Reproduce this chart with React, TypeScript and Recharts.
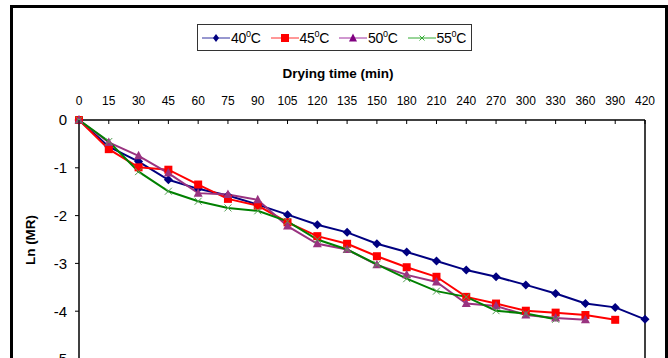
import React from 'react';
import { LineChart, Line, XAxis, YAxis, ReferenceLine } from 'recharts';

const times = [0, 15, 30, 45, 60, 75, 90, 105, 120, 135, 150, 180, 210, 240, 270, 300, 330, 360, 390, 420];
const t40 = [0, -0.56, -0.87, -1.25, -1.44, -1.58, -1.77, -1.98, -2.19, -2.35, -2.59, -2.76, -2.95, -3.14, -3.28, -3.45, -3.63, -3.84, -3.92, -4.17];
const t45 = [0, -0.61, -0.99, -1.04, -1.35, -1.65, -1.79, -2.14, -2.43, -2.59, -2.85, -3.08, -3.28, -3.70, -3.84, -3.99, -4.03, -4.08, -4.18, null];
const t50 = [0, -0.47, -0.75, -1.11, -1.53, -1.56, -1.67, -2.22, -2.59, -2.71, -3.03, -3.24, -3.39, -3.84, -3.89, -4.08, -4.14, -4.18, null, null];
const t55 = [0, -0.45, -1.08, -1.49, -1.70, -1.84, -1.90, -2.12, -2.50, -2.71, -3.02, -3.32, -3.58, -3.70, -3.99, -4.05, -4.17, null, null, null];
const yTicks = [0, -1, -2, -3, -4, -5];
const seriesNames = ['40', '45', '50', '55'];

const data = times.map((t, i) => ({ t, s40: t40[i], s45: t45[i], s50: t50[i], s55: t55[i] }));

const C40 = '#000080';
const C45 = '#FF0000';
const C50 = '#993380';
const C55 = '#008000';

const Diamond = (p: any) => {
  const { cx, cy } = p;
  if (cx == null || cy == null || p.value == null) return null;
  return <polygon points={`${cx},${cy - 4.5} ${cx + 4.5},${cy} ${cx},${cy + 4.5} ${cx - 4.5},${cy}`} fill={C40} />;
};
const Square = (p: any) => {
  const { cx, cy } = p;
  if (cx == null || cy == null || p.value == null) return null;
  return <rect x={cx - 4} y={cy - 4} width={8} height={8} fill={C45} />;
};
const Tri = (p: any) => {
  const { cx, cy } = p;
  if (cx == null || cy == null || p.value == null) return null;
  return <polygon points={`${cx},${cy - 5} ${cx + 4.5},${cy + 3.5} ${cx - 4.5},${cy + 3.5}`} fill={C50} />;
};
const Cross = (p: any) => {
  const { cx, cy } = p;
  if (cx == null || cy == null || p.value == null) return null;
  return (
    <g stroke="#55a055" strokeWidth={1}>
      <line x1={cx - 3.5} y1={cy - 3.5} x2={cx + 3.5} y2={cy + 3.5} />
      <line x1={cx - 3.5} y1={cy + 3.5} x2={cx + 3.5} y2={cy - 3.5} />
    </g>
  );
};

const TopTick = (p: any) => {
  const { x, payload } = p;
  return (
    <g>
      <line x1={x} y1={120} x2={x} y2={124} stroke="#000" strokeWidth={1} />
      <text x={x} y={105} textAnchor="middle" fontSize={12} fill="#000" fontFamily="Liberation Sans, Arial, sans-serif">
        {payload.value}
      </text>
    </g>
  );
};

const legendIcons: any[] = [
  (c: string) => <polygon points="13,2 16,6 13,10 10,6" fill={c} />,
  (c: string) => <rect x={9} y={2} width={8} height={8} fill={c} />,
  (c: string) => <polygon points="13,1.5 17,9.5 9,9.5" fill={c} />,
  (c: string) => (
    <g stroke={c} strokeWidth={1}>
      <line x1={10.5} y1={3.5} x2={15.5} y2={8.5} />
      <line x1={10.5} y1={8.5} x2={15.5} y2={3.5} />
    </g>
  ),
];
const legendColors = [C40, C45, '#800080', '#33aa33'];
const legendLineColors = ['#3030a0', '#ff3030', '#a030a0', '#33aa33'];

export default function App() {
  return (
    <div style={{ position: 'absolute', left: 0, top: 0, width: 668, height: 358, overflow: 'hidden', background: '#fff', fontFamily: 'Liberation Sans, Arial, sans-serif' }}>
      <div style={{ position: 'absolute', left: 10, top: 5, width: 652, height: 400, border: '3px solid #000' }} />
      <div
        style={{
          position: 'absolute', left: 197, top: 24, width: 269, height: 25,
          border: '1px solid #333', display: 'flex', alignItems: 'center', paddingLeft: 4, boxSizing: 'content-box',
        }}
      >
        {seriesNames.map((n, i) => (
          <div key={n} style={{ display: 'flex', alignItems: 'center', marginRight: i < 3 ? 10 : 0 }}>
            <svg width={28} height={12} style={{ display: 'block' }}>
              <line x1={0} y1={6} x2={28} y2={6} stroke={legendLineColors[i]} strokeWidth={1} />
              <g transform="translate(1,0)">{legendIcons[i](legendColors[i])}</g>
            </svg>
            <span style={{ fontSize: 14, color: '#000', marginLeft: 1, letterSpacing: -0.3 }}>
              {n}
              <span style={{ fontSize: 9, verticalAlign: 6 }}>0</span>C
            </span>
          </div>
        ))}
      </div>
      <div style={{ position: 'absolute', left: 238, top: 66, width: 200, textAlign: 'center', fontWeight: 'bold', fontSize: 13.5, color: '#000' }}>
        Drying time (min)
      </div>
      <div
        style={{
          position: 'absolute', left: 30, top: 240, transform: 'translate(-50%, -50%) rotate(-90deg)',
          fontWeight: 'bold', fontSize: 13.5, whiteSpace: 'nowrap', color: '#000',
        }}
      >
        Ln (MR)
      </div>
      <div style={{ position: 'absolute', left: 0, top: 0 }}>
        <LineChart width={668} height={380} data={data} margin={{ top: 90, right: 23, bottom: 21, left: 39 }}>
          <XAxis
            dataKey="t"
            orientation="top"
            type="category"
            scale="point"
            padding={{ left: 0, right: 0 }}
            height={30}
            axisLine={{ stroke: '#000', strokeWidth: 1.5 }}
            tickLine={false}
            tick={<TopTick />}
            interval={0}
          />
          <YAxis
            type="number"
            domain={[-5, 0]}
            ticks={yTicks}
            width={40}
            axisLine={{ stroke: '#000', strokeWidth: 1.5 }}
            tickLine={{ stroke: '#000' }}
            tickSize={4}
            tickMargin={8}
            tick={{ fontSize: 15, fill: '#000', fontFamily: 'Liberation Sans, Arial, sans-serif' }}
          />
          <ReferenceLine x={420} stroke="#000" strokeWidth={1.5} />
          <Line type="linear" dataKey="s40" stroke={C40} strokeWidth={2} dot={<Diamond />} isAnimationActive={false} connectNulls={false} />
          <Line type="linear" dataKey="s45" stroke={C45} strokeWidth={2} dot={<Square />} isAnimationActive={false} />
          <Line type="linear" dataKey="s50" stroke={C50} strokeWidth={2} dot={<Tri />} isAnimationActive={false} />
          <Line type="linear" dataKey="s55" stroke={C55} strokeWidth={2} dot={<Cross />} isAnimationActive={false} />
        </LineChart>
      </div>
    </div>
  );
}
